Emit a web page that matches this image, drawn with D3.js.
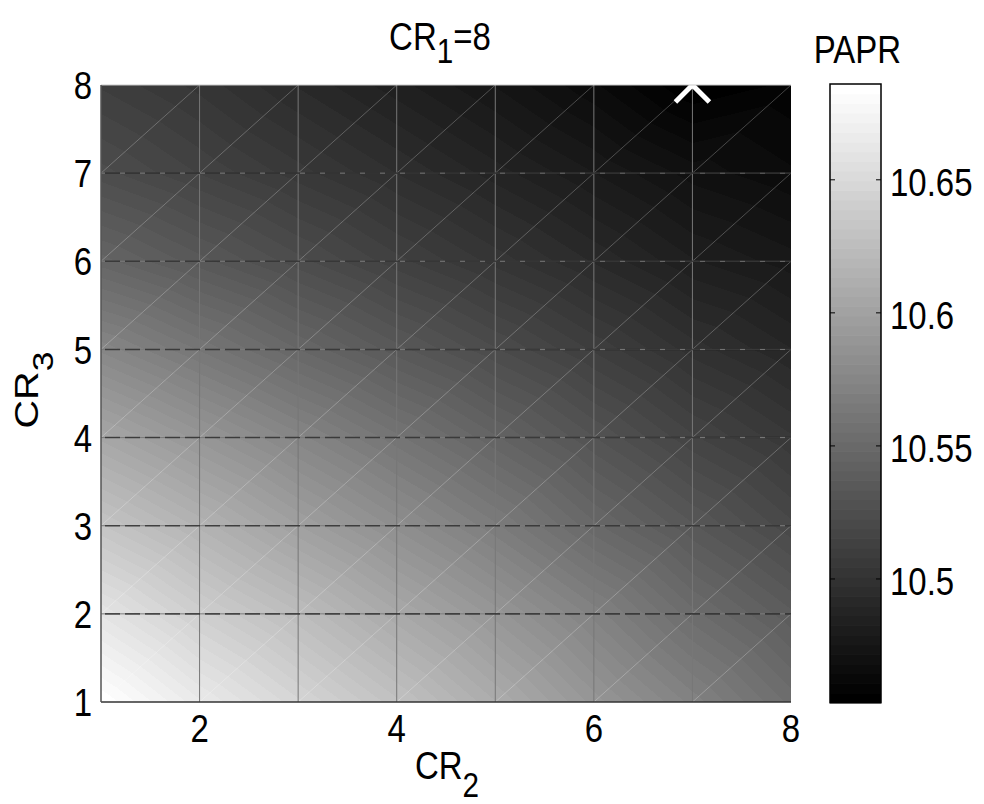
<!DOCTYPE html>
<html>
<head>
<meta charset="utf-8">
<script src="https://cdnjs.cloudflare.com/ajax/libs/d3/7.8.5/d3.min.js"></script>
<style>
  html, body { margin: 0; padding: 0; background: #ffffff; }
  svg { display: block; }
  text { font-family: "Liberation Sans", Arial, Helvetica, sans-serif; fill: #000; }
</style>
</head>
<body>
<svg id="chart" width="984" height="804"></svg>
<script>
// ---------------- data ----------------
const CR2 = [1, 2, 3, 4, 5, 6, 7, 8];
const CR3 = [1, 2, 3, 4, 5, 6, 7, 8];
// PAPR[j][i] : row j -> CR3 = CR3[j], column i -> CR2 = CR2[i]
const PAPR = [
  [10.686, 10.665, 10.647, 10.629, 10.610, 10.590, 10.572, 10.554],
  [10.660, 10.641, 10.625, 10.607, 10.590, 10.572, 10.553, 10.538],
  [10.632, 10.616, 10.599, 10.583, 10.567, 10.549, 10.534, 10.520],
  [10.605, 10.590, 10.575, 10.560, 10.545, 10.530, 10.516, 10.505],
  [10.576, 10.562, 10.548, 10.535, 10.523, 10.511, 10.499, 10.490],
  [10.546, 10.535, 10.524, 10.513, 10.503, 10.493, 10.483, 10.477],
  [10.524, 10.515, 10.506, 10.497, 10.488, 10.479, 10.470, 10.465],
  [10.511, 10.503, 10.493, 10.484, 10.475, 10.465, 10.4535, 10.458]
];
const xTicks = [2, 4, 6, 8];
const yTicks = [1, 2, 3, 4, 5, 6, 7, 8];
const cbTicks = [10.5, 10.55, 10.6, 10.65];
const minPoint = { cr2: 7, cr3: 8 };
const titleMain = "CR", titleSub = "1", titleTail = "=8";
const xLabMain = "CR", xLabSub = "2";
const yLabMain = "CR", yLabSub = "3";
const cbTitle = "PAPR";

// ---------------- layout ----------------
const W = 984, H = 804;
const plot = { x0: 101, x1: 791, y0: 85, y1: 702 };
const cb = { x0: 830, x1: 881, y0: 84, y1: 702.7 };
const FS = 33;      // font size
const SY = 1.2;     // vertical stretch of the original text rendering
const stretch = (px, py) => `translate(${px},${py}) scale(1,${SY})`;

const svg = d3.select("#chart");
const x = d3.scaleLinear().domain([d3.min(CR2), d3.max(CR2)]).range([plot.x0, plot.x1]);
const y = d3.scaleLinear().domain([d3.min(CR3), d3.max(CR3)]).range([plot.y1, plot.y0]);

const flat = PAPR.flat();
const cmin = d3.min(flat), cmax = d3.max(flat);
const NC = 64;
const cnorm = d3.scaleLinear().domain([cmin, cmax]).range([0, 1]).clamp(true);
function grayOf(v) {
  let k = Math.floor(cnorm(v) * NC);
  if (k > NC - 1) k = NC - 1;
  if (k < 0) k = 0;
  return Math.round(k / (NC - 1) * 255);
}

// ---------------- surface (interpolated triangles) ----------------
const pw = Math.round(plot.x1 - plot.x0), ph = Math.round(plot.y1 - plot.y0);
const canvas = document.createElement("canvas");
canvas.width = pw; canvas.height = ph;
const ctx = canvas.getContext("2d");
const img = ctx.createImageData(pw, ph);
const nx = CR2.length, ny = CR3.length;
for (let py = 0; py < ph; py++) {
  const v = y.invert(plot.y0 + py + 0.5);
  let j = Math.floor(v - CR3[0]); if (j >= ny - 1) j = ny - 2; if (j < 0) j = 0;
  const fv = (v - CR3[j]) / (CR3[j + 1] - CR3[j]);
  for (let px = 0; px < pw; px++) {
    const u = x.invert(plot.x0 + px + 0.5);
    let i = Math.floor(u - CR2[0]); if (i >= nx - 1) i = nx - 2; if (i < 0) i = 0;
    const fu = (u - CR2[i]) / (CR2[i + 1] - CR2[i]);
    const z00 = PAPR[j][i], z10 = PAPR[j][i + 1], z01 = PAPR[j + 1][i], z11 = PAPR[j + 1][i + 1];
    let val;
    if (fu >= fv) val = z00 + fu * (z10 - z00) + fv * (z11 - z10);
    else val = z00 + fv * (z01 - z00) + fu * (z11 - z01);
    const g = grayOf(val);
    const o = (py * pw + px) * 4;
    img.data[o] = g; img.data[o + 1] = g; img.data[o + 2] = g; img.data[o + 3] = 255;
  }
}
ctx.putImageData(img, 0, 0);
svg.append("image")
  .attr("x", plot.x0).attr("y", plot.y0)
  .attr("width", pw).attr("height", ph)
  .attr("href", canvas.toDataURL());

// clip for overlays
svg.append("clipPath").attr("id", "pclip").append("rect")
  .attr("x", plot.x0).attr("y", plot.y0).attr("width", pw).attr("height", ph);
const ov = svg.append("g").attr("clip-path", "url(#pclip)");

// diagonal seams
const cells = [];
for (let j = 0; j < ny - 1; j++) for (let i = 0; i < nx - 1; i++) cells.push([i, j]);
ov.selectAll("line.diag").data(cells).enter().append("line")
  .attr("class", "diag")
  .attr("x1", d => x(CR2[d[0]])).attr("y1", d => y(CR3[d[1]]))
  .attr("x2", d => x(CR2[d[0] + 1])).attr("y2", d => y(CR3[d[1] + 1]))
  .attr("stroke", "#ffffff").attr("stroke-opacity", 0.28).attr("stroke-width", 0.9);

// vertical grid lines
ov.selectAll("line.vg").data(CR2.slice(1, -1)).enter().append("line")
  .attr("class", "vg")
  .attr("x1", d => x(d)).attr("x2", d => x(d))
  .attr("y1", plot.y0).attr("y2", plot.y1)
  .attr("stroke", "#777").attr("stroke-width", 1);

// horizontal grid lines
ov.selectAll("line.hg").data(CR3.slice(1, -1)).enter().append("line")
  .attr("class", "hg")
  .attr("x1", plot.x0).attr("x2", plot.x1)
  .attr("y1", d => y(d)).attr("y2", d => y(d))
  .attr("stroke", "#7a7a7a").attr("stroke-width", 1);
ov.selectAll("line.hgd").data(CR3.slice(1, -1)).enter().append("line")
  .attr("class", "hgd")
  .attr("x1", plot.x0 + 4).attr("x2", plot.x1)
  .attr("y1", d => y(d)).attr("y2", d => y(d))
  .attr("stroke", "#1a1a1a").attr("stroke-opacity", 0.65).attr("stroke-width", 1.6)
  .attr("stroke-dasharray", "15,5");

// minimum marker (X)
const mx = x(minPoint.cr2), my = y(minPoint.cr3), ms = 17;
ov.append("path")
  .attr("d", `M${mx - ms},${my - ms}L${mx + ms},${my + ms}M${mx - ms},${my + ms}L${mx + ms},${my - ms}`)
  .attr("stroke", "#ffffff").attr("stroke-width", 5).attr("fill", "none");

// axes frame
svg.append("line").attr("x1", plot.x0).attr("x2", plot.x1).attr("y1", plot.y0).attr("y2", plot.y0)
  .attr("stroke", "#c8c8c8").attr("stroke-width", 1);
svg.append("line").attr("x1", plot.x0).attr("x2", plot.x1).attr("y1", plot.y1).attr("y2", plot.y1)
  .attr("stroke", "#333").attr("stroke-width", 1.5);
svg.append("line").attr("x1", plot.x0).attr("x2", plot.x0).attr("y1", plot.y0).attr("y2", plot.y1)
  .attr("stroke", "#555").attr("stroke-width", 1.5);

// axis tick labels (positioned through the scales)
const capH = 0.716 * FS * SY;
svg.append("g").selectAll("text").data(xTicks).enter().append("text")
  .attr("transform", d => stretch(x(d), 742 / SY * SY))
  .attr("text-anchor", "middle").attr("font-size", FS)
  .text(d3.format("d"));
svg.append("g").selectAll("text").data(yTicks).enter().append("text")
  .attr("transform", d => stretch(92, y(d) + capH / 2))
  .attr("text-anchor", "end").attr("font-size", FS)
  .text(d3.format("d"));

// titles
function subText(g, main, sub, tail, dy) {
  const t = g.append("text").attr("font-size", FS);
  t.append("tspan").text(main);
  t.append("tspan").attr("dy", dy).attr("font-size", FS * 0.9).text(sub);
  if (tail) t.append("tspan").attr("dy", -dy).text(tail);
  return t;
}
subText(svg.append("g").attr("transform", stretch(440, 50)), titleMain, titleSub, titleTail, 11)
  .attr("text-anchor", "middle");
subText(svg.append("g").attr("transform", stretch(447, 779)), xLabMain, xLabSub, null, 15)
  .attr("text-anchor", "middle");
subText(svg.append("g").attr("transform", `translate(38,390) scale(1,${SY}) rotate(-90)`), yLabMain, yLabSub, null, 15)
  .attr("text-anchor", "middle");

// ---------------- colorbar ----------------
const cy = d3.scaleLinear().domain([cmin, cmax]).range([cb.y1, cb.y0]);
const bands = d3.range(NC);
const bandH = (cb.y1 - cb.y0) / NC;
svg.append("g").selectAll("rect").data(bands).enter().append("rect")
  .attr("x", cb.x0).attr("width", cb.x1 - cb.x0)
  .attr("y", k => cy(cmin + (k + 1) / NC * (cmax - cmin)))
  .attr("height", bandH + 0.6)
  .attr("fill", k => { const g = Math.round(k / (NC - 1) * 255); return `rgb(${g},${g},${g})`; });
svg.append("rect").attr("x", cb.x0).attr("y", cb.y0)
  .attr("width", cb.x1 - cb.x0).attr("height", cb.y1 - cb.y0)
  .attr("fill", "none").attr("stroke", "#000").attr("stroke-width", 1.5);
const cbg = svg.append("g");
cbg.selectAll("line.tl").data(cbTicks).enter().append("line")
  .attr("x1", cb.x0).attr("x2", cb.x0 + 5).attr("y1", d => cy(d)).attr("y2", d => cy(d))
  .attr("stroke", "#000").attr("stroke-width", 1);
cbg.selectAll("line.tr").data(cbTicks).enter().append("line")
  .attr("x1", cb.x1 - 5).attr("x2", cb.x1).attr("y1", d => cy(d)).attr("y2", d => cy(d))
  .attr("stroke", "#000").attr("stroke-width", 1);
cbg.selectAll("text").data(cbTicks).enter().append("text")
  .attr("transform", d => stretch(cb.x1 + 9, cy(d) + capH / 2 + 2))
  .attr("font-size", FS)
  .text(d => String(d));
svg.append("text").attr("transform", stretch((cb.x0 + cb.x1) / 2 + 2, 63))
  .attr("text-anchor", "middle").attr("font-size", FS).text(cbTitle);
</script>
</body>
</html>
